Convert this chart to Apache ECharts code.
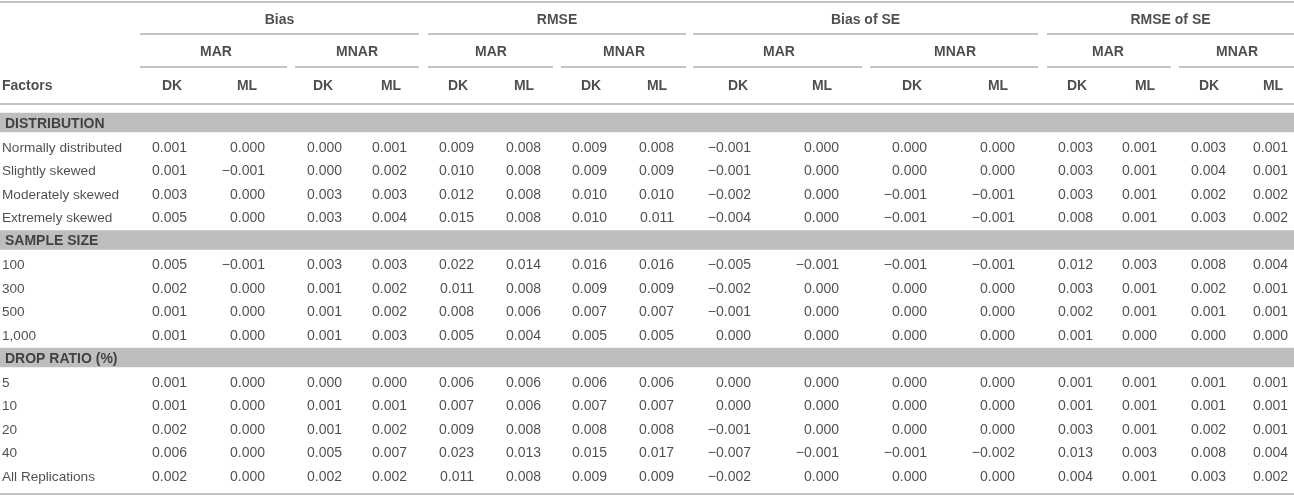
<!DOCTYPE html>
<html><head><meta charset="utf-8">
<script src="https://cdn.jsdelivr.net/npm/echarts@6/dist/echarts.min.js"></script>
<style>html,body{margin:0;padding:0;background:#fff}#c{width:1294px;height:496px}</style>
</head><body><div id="c"></div>
<script>
// ---------- content ----------
const measures = ['Bias', 'RMSE', 'Bias of SE', 'RMSE of SE'];
const mechanisms = ['MAR', 'MNAR'];
const methods = ['DK', 'ML'];
const factorHeader = 'Factors';
const sections = ['DISTRIBUTION', 'SAMPLE SIZE', 'DROP RATIO (%)'];
const distributionRows = ['Normally distributed', 'Slightly skewed', 'Moderately skewed', 'Extremely skewed'];
const sampleSizeRows = ['100', '300', '500', '1,000'];
const dropRatioRows = ['5', '10', '20', '40', 'All Replications'];

// each row: MAR-DK, MAR-ML, MNAR-DK, MNAR-ML (rows in order: distribution, sample size, drop ratio)
const biasValues = [
  [0.001, 0.000, 0.000, 0.001], [0.001, -0.001, 0.000, 0.002], [0.003, 0.000, 0.003, 0.003], [0.005, 0.000, 0.003, 0.004],
  [0.005, -0.001, 0.003, 0.003], [0.002, 0.000, 0.001, 0.002], [0.001, 0.000, 0.001, 0.002], [0.001, 0.000, 0.001, 0.003],
  [0.001, 0.000, 0.000, 0.000], [0.001, 0.000, 0.001, 0.001], [0.002, 0.000, 0.001, 0.002], [0.006, 0.000, 0.005, 0.007], [0.002, 0.000, 0.002, 0.002]
];
const rmseValues = [
  [0.009, 0.008, 0.009, 0.008], [0.010, 0.008, 0.009, 0.009], [0.012, 0.008, 0.010, 0.010], [0.015, 0.008, 0.010, 0.011],
  [0.022, 0.014, 0.016, 0.016], [0.011, 0.008, 0.009, 0.009], [0.008, 0.006, 0.007, 0.007], [0.005, 0.004, 0.005, 0.005],
  [0.006, 0.006, 0.006, 0.006], [0.007, 0.006, 0.007, 0.007], [0.009, 0.008, 0.008, 0.008], [0.023, 0.013, 0.015, 0.017], [0.011, 0.008, 0.009, 0.009]
];
const biasSEValues = [
  [-0.001, 0.000, 0.000, 0.000], [-0.001, 0.000, 0.000, 0.000], [-0.002, 0.000, -0.001, -0.001], [-0.004, 0.000, -0.001, -0.001],
  [-0.005, -0.001, -0.001, -0.001], [-0.002, 0.000, 0.000, 0.000], [-0.001, 0.000, 0.000, 0.000], [0.000, 0.000, 0.000, 0.000],
  [0.000, 0.000, 0.000, 0.000], [0.000, 0.000, 0.000, 0.000], [-0.001, 0.000, 0.000, 0.000], [-0.007, -0.001, -0.001, -0.002], [-0.002, 0.000, 0.000, 0.000]
];
const rmseSEValues = [
  [0.003, 0.001, 0.003, 0.001], [0.003, 0.001, 0.004, 0.001], [0.003, 0.001, 0.002, 0.002], [0.008, 0.001, 0.003, 0.002],
  [0.012, 0.003, 0.008, 0.004], [0.003, 0.001, 0.002, 0.001], [0.002, 0.001, 0.001, 0.001], [0.001, 0.000, 0.000, 0.000],
  [0.001, 0.001, 0.001, 0.001], [0.001, 0.001, 0.001, 0.001], [0.003, 0.001, 0.002, 0.001], [0.013, 0.003, 0.008, 0.004], [0.004, 0.001, 0.003, 0.002]
];

// ---------- layout (pixel units of the hidden value axes) ----------
const W = 1294, H = 496;
const groupSpans = [[140, 419], [428, 686], [693, 1038], [1047, 1294]];
const subSpans = [[140, 287], [295, 419], [428, 553], [561, 686], [693, 862], [870, 1038], [1047, 1171], [1179, 1294]];
const subCenters = [216, 357, 491, 624, 779, 955, 1108, 1237];
const methodCenters = [172, 247, 323, 391, 458, 524, 591, 657, 738, 822, 912, 998, 1077, 1145, 1209, 1273];
const numberRight = [187, 265, 342, 407, 474, 541, 607, 674, 751, 839, 927, 1015, 1093, 1157, 1226, 1288];
const headerY = [20.5, 52.5, 86];
const ruleY = { top: 2, head: 104, bottom: 494, under1: 34, under2: 67 };
const bodyTop = 111, rowH = 23.5, textShift = 1.5;
const TEXT = '#231f20', RULE = '#b0b0b0', BAND = '#bdbec0';
const FONT = '"Liberation Sans", Arial, Helvetica, sans-serif';

// ---------- build ----------
const fmt = v => (v < 0 ? '\u2212' : '') + Math.abs(v).toFixed(3);
const allMeasures = [biasValues, rmseValues, biasSEValues, rmseSEValues];
const groups = [distributionRows, sampleSizeRows, dropRatioRows];

const body = [];
let dataRow = 0;
groups.forEach((g, gi) => {
  body.push({ band: sections[gi] });
  g.forEach(lbl => { body.push({ label: lbl, idx: dataRow++ }); });
});
const rowY = i => bodyTop + (i + 0.5) * rowH;

const texts = [];
function txt(x, y, s, align, bold, size) {
  texts.push({ value: [x, y], label: { formatter: s, align: align, fontWeight: bold ? 'bold' : 'normal', fontSize: size || 14 } });
}
// headers
measures.forEach((m, i) => txt((groupSpans[i][0] + groupSpans[i][1]) / 2, headerY[0], m, 'center', true));
subCenters.forEach((c, i) => txt(c, headerY[1], mechanisms[i % 2], 'center', true));
methodCenters.forEach((c, i) => txt(c, headerY[2], methods[i % 2], 'center', true));
txt(2, headerY[2], factorHeader, 'left', true);

const bands = [];
body.forEach((r, i) => {
  const y = rowY(i);
  if (r.band) {
    bands.push([{ coord: [0, y - 10] }, { coord: [W, y + 9.5] }]);
    txt(5, y + 1, r.band, 'left', true);
  } else {
    txt(2, y + textShift, r.label, 'left', false, 13.6);
    allMeasures.forEach((mv, mi) => {
      mv[r.idx].forEach((v, k) => txt(numberRight[mi * 4 + k], y + textShift, fmt(v), 'right', false));
    });
  }
});

const rules = [];
[ruleY.top, ruleY.head, ruleY.bottom].forEach(y => rules.push([{ coord: [0, y] }, { coord: [W, y] }]));
groupSpans.forEach(s => rules.push([{ coord: [s[0], ruleY.under1] }, { coord: [s[1], ruleY.under1] }]));
subSpans.forEach(s => rules.push([{ coord: [s[0], ruleY.under2] }, { coord: [s[1], ruleY.under2] }]));

const chart = echarts.init(document.getElementById('c'), null, { renderer: 'canvas' });
chart.setOption({
  animation: false,
  backgroundColor: '#fff',
  textStyle: { fontFamily: FONT },
  grid: { left: 0, right: 0, top: 0, bottom: 0, containLabel: false },
  xAxis: { type: 'value', min: 0, max: W, show: false },
  yAxis: { type: 'value', min: 0, max: H, inverse: true, show: false },
  series: [
    {
      type: 'scatter', z: 1, silent: true, data: [],
      markArea: { silent: true, itemStyle: { color: BAND }, data: bands }
    },
    {
      type: 'scatter', z: 2, silent: true, data: [],
      markLine: { silent: true, symbol: ['none', 'none'], label: { show: false },
        lineStyle: { color: RULE, width: 1.6, type: 'solid' }, data: rules }
    },
    {
      type: 'scatter', z: 5, silent: true, symbolSize: 1,
      itemStyle: { color: 'rgba(0,0,0,0)' },
      label: { show: true, position: 'inside', verticalAlign: 'middle', color: TEXT, fontFamily: FONT, fontSize: 14 },
      labelLayout: { hideOverlap: false },
      data: texts
    }
  ]
});
</script></body></html>
